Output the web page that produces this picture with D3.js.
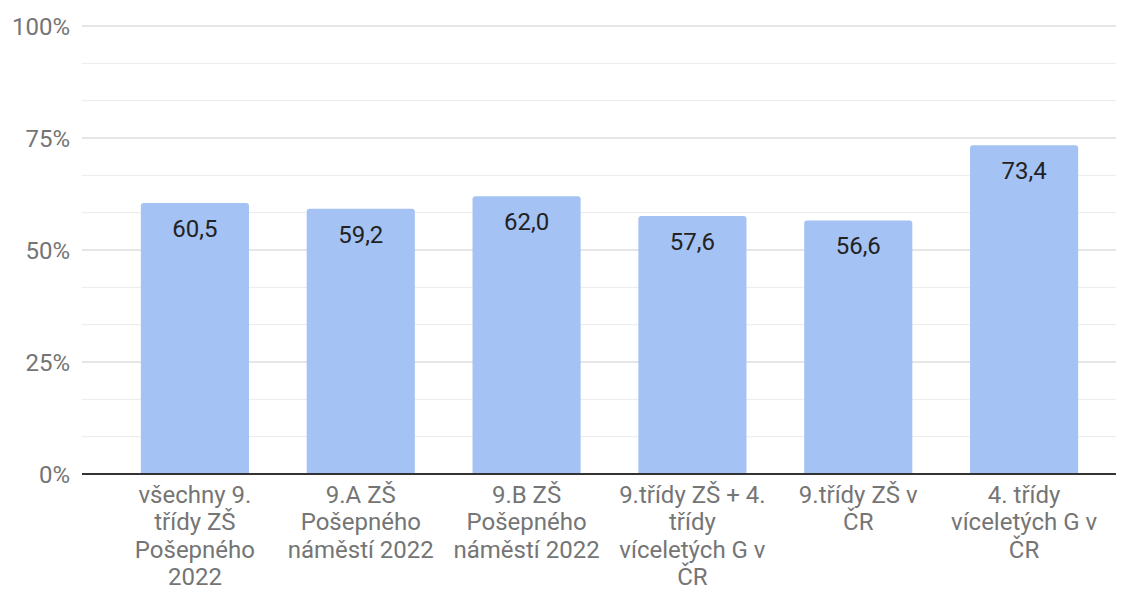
<!DOCTYPE html>
<html>
<head>
<meta charset="utf-8">
<script src="https://cdn.jsdelivr.net/npm/d3@7"></script>
<style>
  body { margin: 0; background: #fff; }
  text { font-family: Roboto, "Noto Sans", sans-serif; }
</style>
</head>
<body>
<script>
// kategorie (zalomení řádků jako v originále)
const categories = [
    "všechny 9.\ntřídy ZŠ\nPošepného\n2022",
    "9.A ZŠ\nPošepného\nnáměstí 2022",
    "9.B ZŠ\nPošepného\nnáměstí 2022",
    "9.třídy ZŠ + 4.\ntřídy\nvíceletých G v\nČR",
    "9.třídy ZŠ v\nČR",
    "4. třídy\nvíceletých G v\nČR"
];
const values = [60.5, 59.2, 62.0, 57.6, 56.6, 73.4];
const majorTicks = [0, 25, 50, 75, 100];
const minorTicks = [8.33, 16.67, 33.33, 41.67, 58.33, 66.67, 83.33, 91.67];

const width = 1126, height = 602;

let svg = d3.select("body").append("svg")
    .attr("width", width)
    .attr("height", height);

let x = d3.scaleBand()
    .domain(categories)
    .range([112, 1107])
    .paddingInner(0.348)
    .paddingOuter(0.174);

let y = d3.scaleLinear()
    .domain([0, 100])
    .range([474, 26]);

// mřížka
svg.append("g")
    .selectAll("line")
    .data(minorTicks)
    .enter().append("line")
    .attr("x1", 82).attr("x2", 1116)
    .attr("y1", d => y(d)).attr("y2", d => y(d))
    .attr("stroke", "#ebebeb")
    .attr("stroke-width", 1);

svg.append("g")
    .selectAll("line")
    .data(majorTicks.filter(d => d > 0))
    .enter().append("line")
    .attr("x1", 82).attr("x2", 1116)
    .attr("y1", d => y(d)).attr("y2", d => y(d))
    .attr("stroke", "#cccccc")
    .attr("stroke-width", 1);

// popisky osy Y
svg.append("g")
    .selectAll("text")
    .data(majorTicks)
    .enter().append("text")
    .attr("x", 70)
    .attr("y", d => y(d))
    .attr("dy", "0.36em")
    .attr("text-anchor", "end")
    .attr("fill", "#757575")
    .style("font-size", "24px")
    .text(d => d + "%");

// sloupce se zaoblenými horními rohy
function barPath(x0, y0, w, h, r) {
    return "M" + x0 + "," + (y0 + h) +
        "V" + (y0 + r) +
        "Q" + x0 + "," + y0 + " " + (x0 + r) + "," + y0 +
        "H" + (x0 + w - r) +
        "Q" + (x0 + w) + "," + y0 + " " + (x0 + w) + "," + (y0 + r) +
        "V" + (y0 + h) + "Z";
}

svg.append("g")
    .selectAll("path")
    .data(values)
    .enter().append("path")
    .attr("d", (d, i) => barPath(x(categories[i]), y(d), x.bandwidth(), y(0) - y(d), 3))
    .attr("fill", "#a4c2f4");

// hodnoty
svg.append("g")
    .selectAll("text")
    .data(values)
    .enter().append("text")
    .attr("x", (d, i) => x(categories[i]) + x.bandwidth() / 2)
    .attr("y", d => y(d) + 34)
    .attr("text-anchor", "middle")
    .attr("fill", "#222222")
    .style("font-size", "24px")
    .text(d => d.toFixed(1).replace(".", ","));

// osa X
svg.append("line")
    .attr("x1", 82).attr("x2", 1116)
    .attr("y1", y(0)).attr("y2", y(0))
    .attr("stroke", "#333333")
    .attr("stroke-width", 2);

let labels = svg.append("g")
    .selectAll("text")
    .data(categories)
    .enter().append("text")
    .attr("x", d => x(d) + x.bandwidth() / 2)
    .attr("y", 503)
    .attr("text-anchor", "middle")
    .attr("fill", "#757575")
    .style("font-size", "24px");

labels.each(function(d) {
    let t = d3.select(this);
    d.split("\n").forEach((line, i) => {
        t.append("tspan")
            .attr("x", x(d) + x.bandwidth() / 2)
            .attr("y", 503 + i * 27.3)
            .text(line);
    });
});
</script>
</body>
</html>
